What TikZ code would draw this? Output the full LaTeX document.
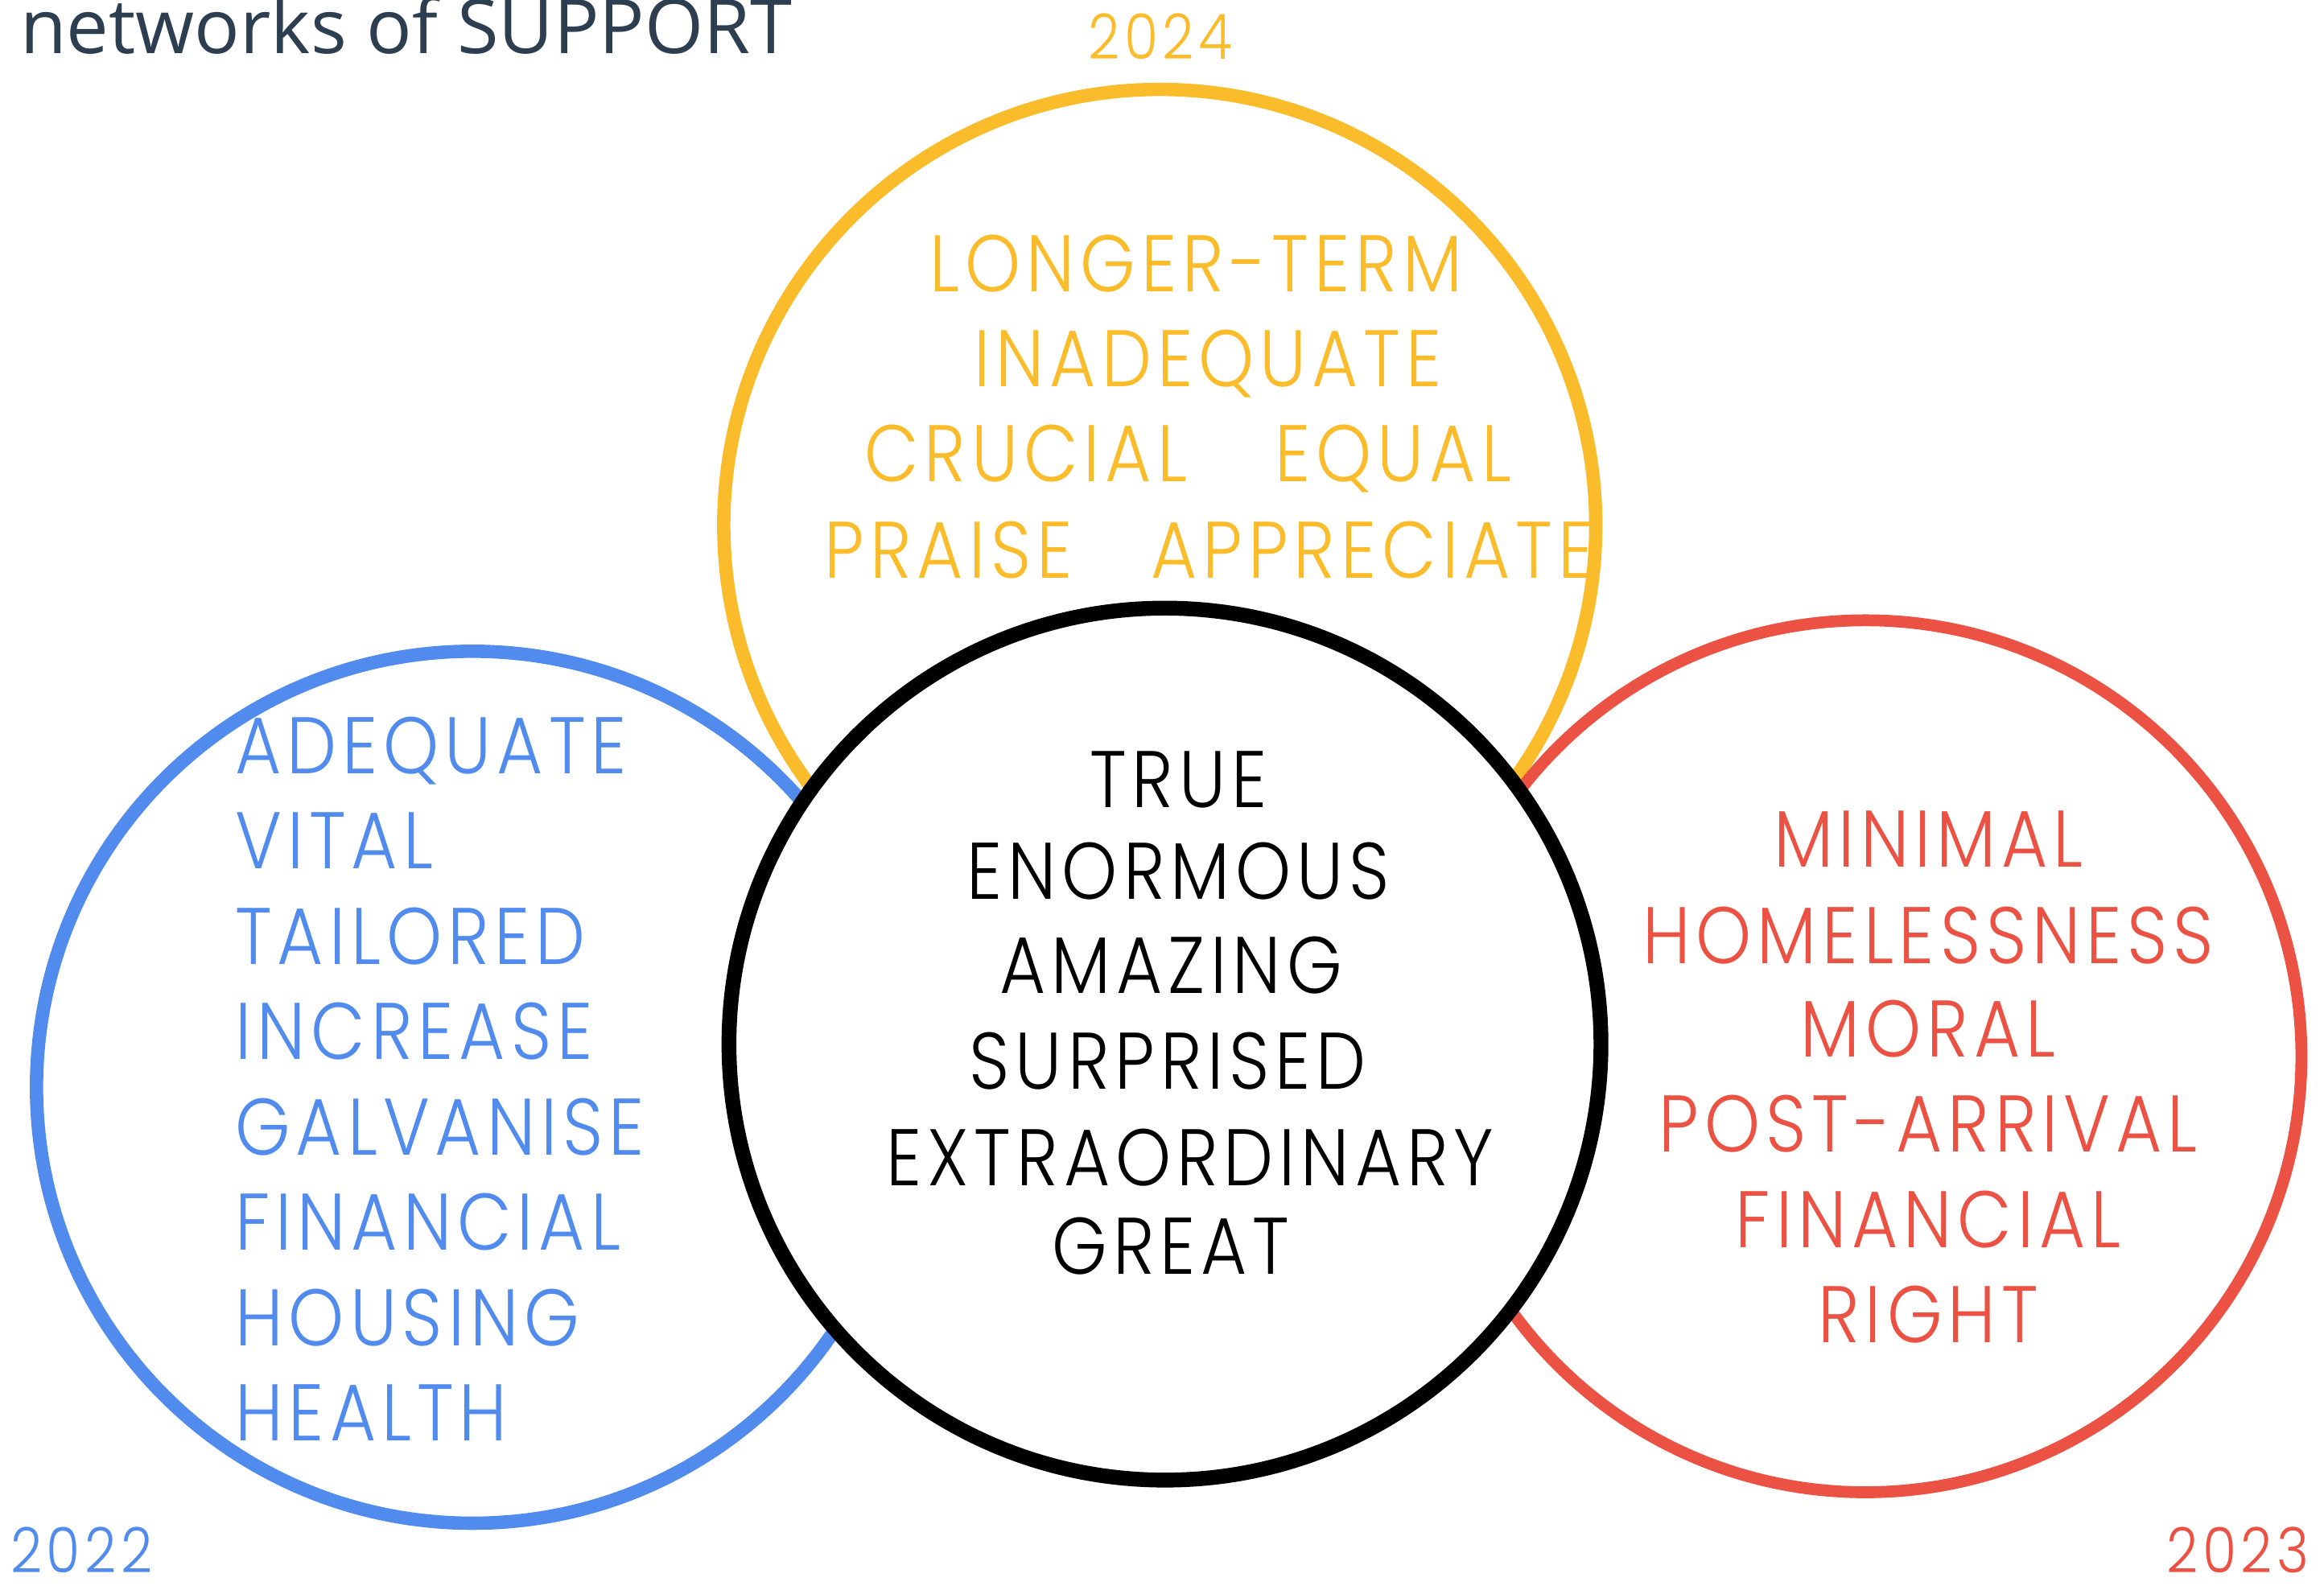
\documentclass[tikz,border=0pt]{standalone}
\usepackage{fontspec}
\setmainfont{Poppins}[UprightFont=* Light, FakeStretch=0.88, LetterSpace=7]
\newfontfamily\titlefont{Open Sans}
\definecolor{titleink}{RGB}{44,62,80}
\definecolor{year22}{RGB}{81,139,238}
\definecolor{year23}{RGB}{236,82,67}
\definecolor{year24}{RGB}{251,188,43}
\def\ringsize{5.88cm}

\begin{document}
\begin{tikzpicture}[x=0.01cm,y=-0.01cm]
            \tikzstyle{ring}=[circle,minimum size=\ringsize,inner sep=0pt,line width=0.09cm]
            \tikzstyle{word}=[font=\fontsize{15.4}{18}\selectfont,inner sep=0pt,anchor=base]
            \tikzstyle{year}=[font=\fontsize{12}{14}\selectfont,inner sep=0pt,anchor=base]

            \useasboundingbox (0,0) rectangle (1568,1070);

            % Title
            \node[anchor=base west,inner sep=0pt,text=titleink,font=\titlefont\fontsize{14.5}{18}\selectfont] (title) at (13,36) {networks of SUPPORT};

            % Draw the three yearly rings, then the shared one on top
            \node[ring,draw=year24] (R-2024) at (782.5,354.5) {};
            \node[ring,draw=year22] (R-2022) at (318.8,733.6) {};
            \node[ring,draw=year23,line width=0.08cm] (R-2023) at (1258.6,712.7) {};
            \node[ring,draw=black,fill=white,line width=0.1cm] (R-all) at (786,704.5) {};

            % Year labels
            \node[year,text=year24] (Y-2024) at (783,40) {2024};
            \node[year,text=year22] (Y-2022) at (55,1061) {2022};
            \node[year,text=year23] (Y-2023) at (1510,1061) {2023};

            % Words of 2024
            \foreach \name/\word/\x/\y in {a/LONGER-TERM/807/197, b/INADEQUATE/815/261,
                    c/CRUCIAL/692/325, d/EQUAL/940/325, e/PRAISE/640/390, f/APPRECIATE/926/390}
                \node[word,text=year24] (W24-\name) at (\x,\y) {\word};

            % Words of 2022
            \foreach \word [count=\i] in {ADEQUATE,VITAL,TAILORED,INCREASE,GALVANISE,FINANCIAL,HOUSING,HEALTH}
                \node[word,anchor=base west,text=year22] (W22-\i) at (158,522+64.3*\i-64.3) {\word};

            % Words of 2023
            \foreach \word/\y [count=\i] in {MINIMAL/585,HOMELESSNESS/650,MORAL/713,POST-ARRIVAL/777,FINANCIAL/842,RIGHT/906}
                \node[word,text=year23] (W23-\i) at (1301,\y) {\word};

            % Words shared by all years
            \foreach \name/\word/\x/\y in {1/TRUE/795/545, 2/ENORMOUS/795/607, 3/AMAZING/790/670,
                    4/SURPRISED/788/735, 5/EXTRAORDINARY/803/800, 6/GREAT/790/860}
                \node[word,text=black] (W-\name) at (\x,\y) {\word};
\end{tikzpicture}
\end{document}
